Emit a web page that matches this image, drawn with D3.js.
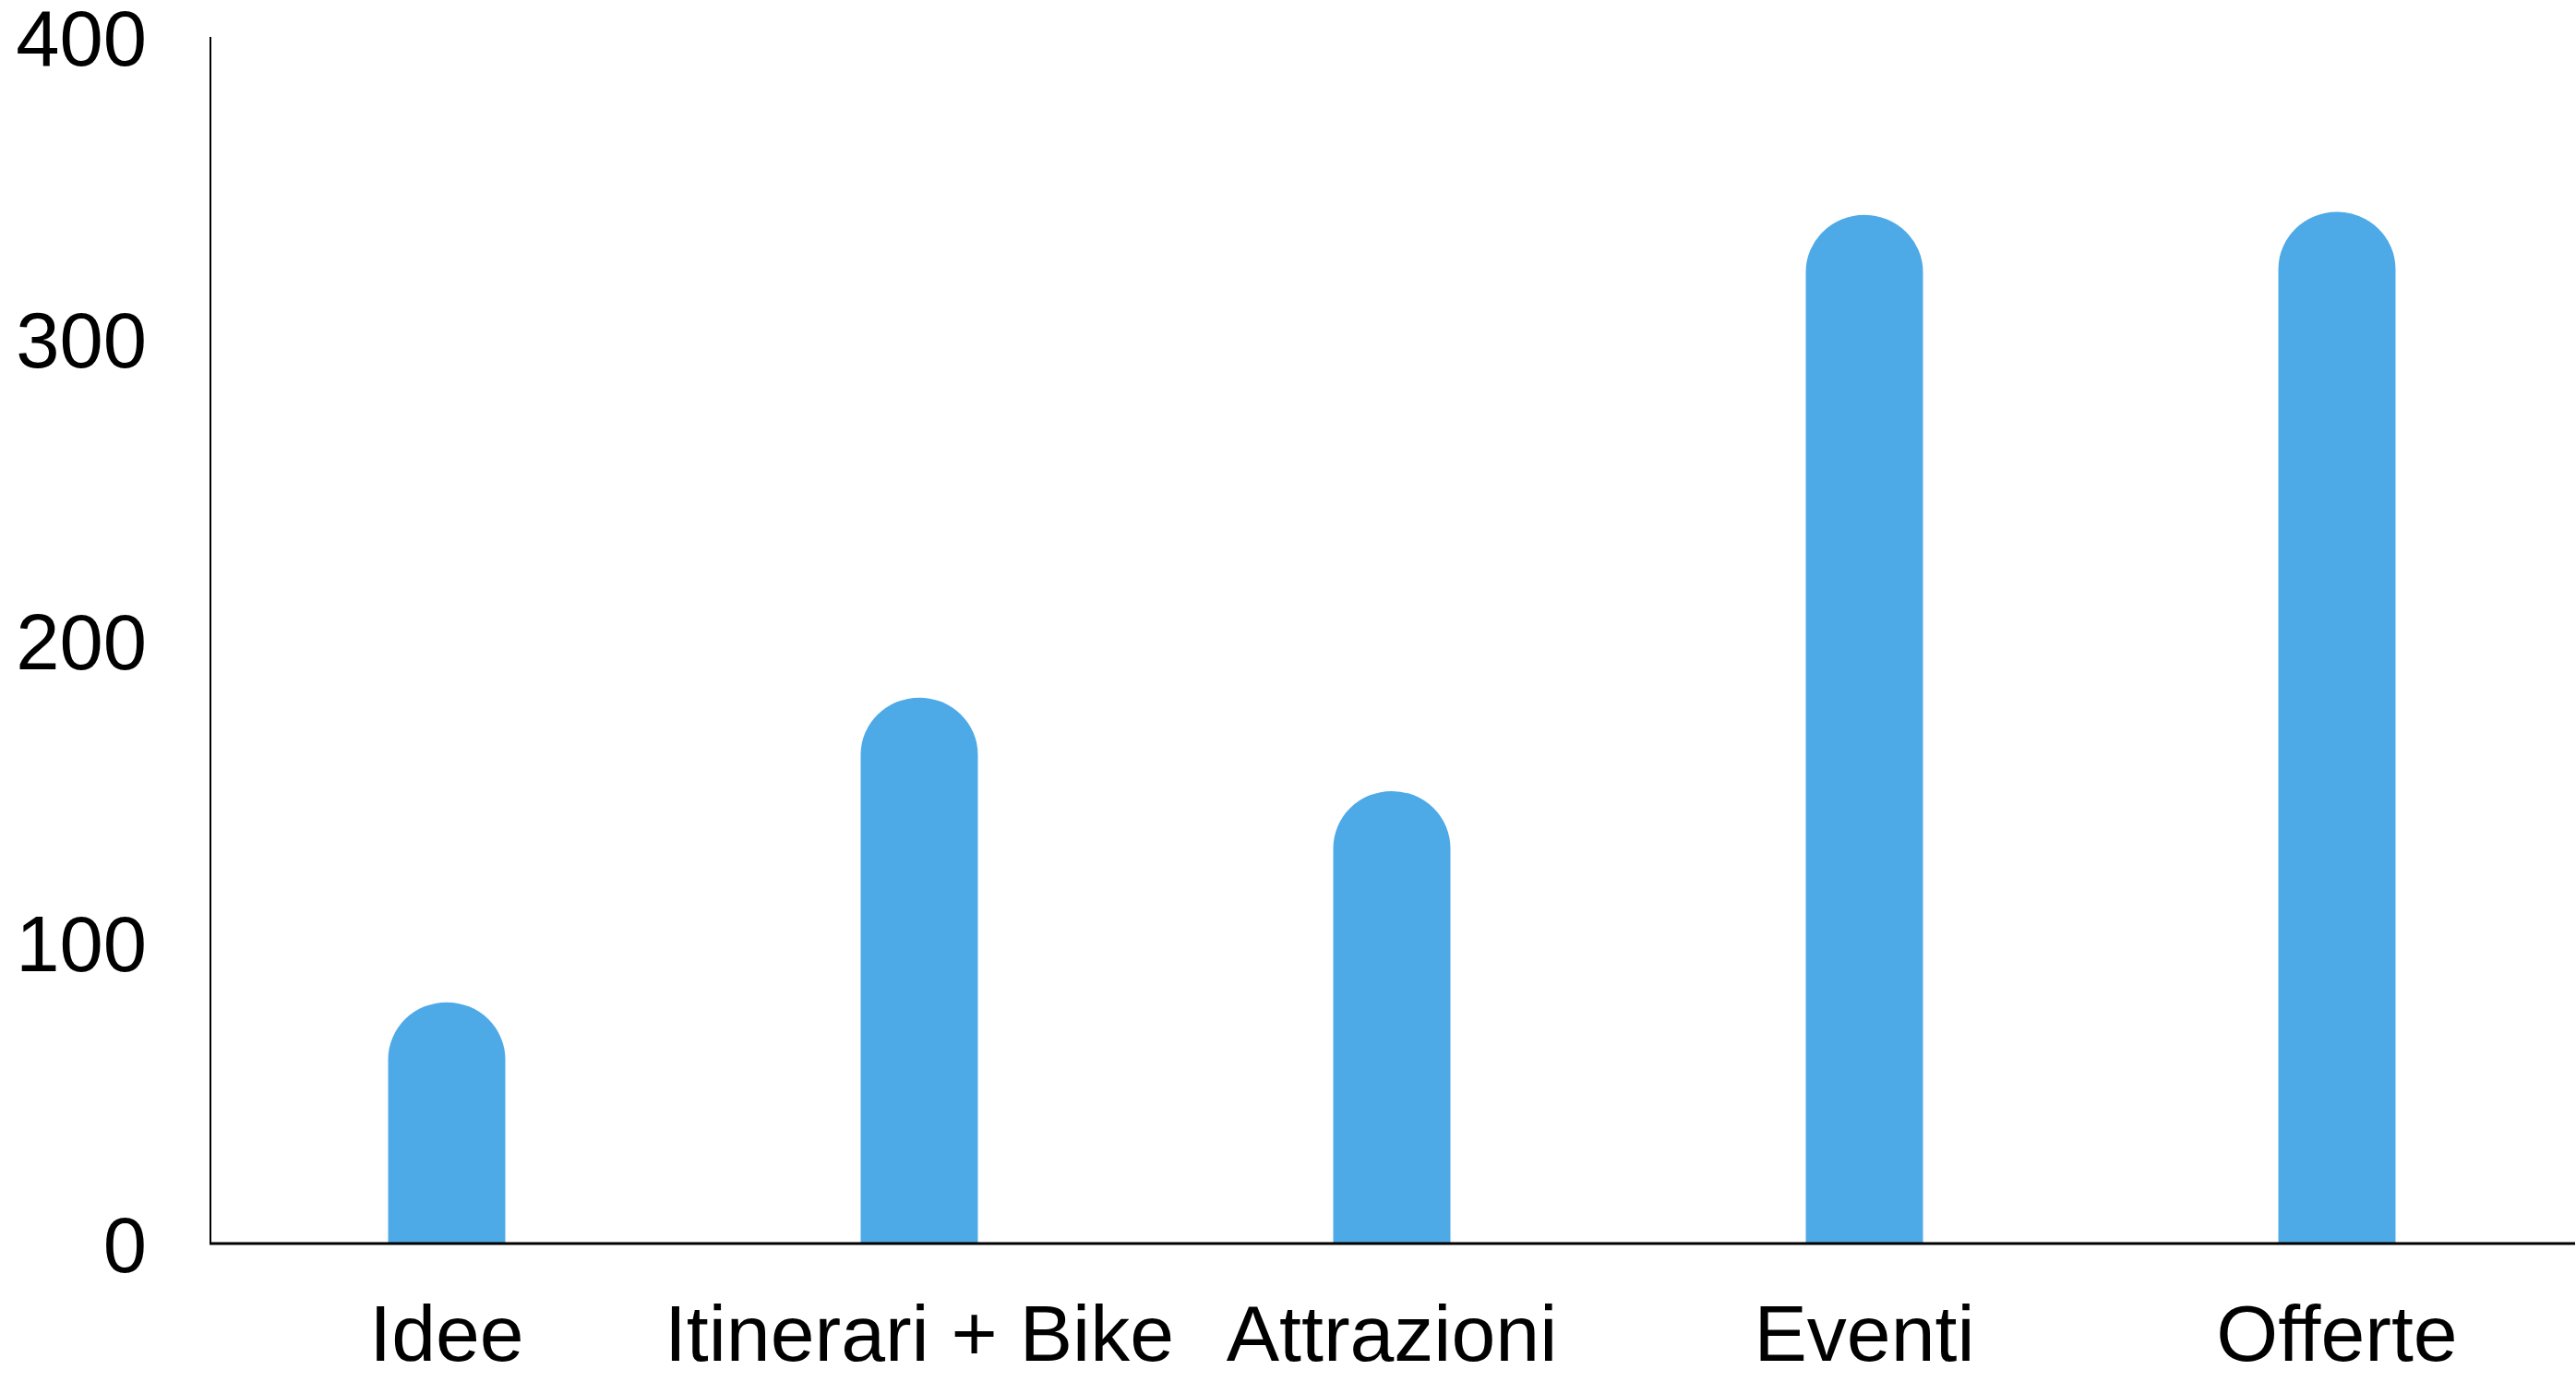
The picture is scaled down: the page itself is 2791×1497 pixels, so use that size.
<!DOCTYPE html>
<html lang="it">
<head>
    <meta charset="UTF-8">
    <title>Contenuti per categoria</title>
    <script src="https://d3js.org/d3.v7.min.js"></script>
</head>
<style>
    body {
        margin: 0;
        padding: 0;
        background: #fff;
    }
    svg {
        display: block;
    }
    text {
        font-family: "Liberation Sans", Arial, Helvetica, sans-serif;
        fill: #000;
    }
</style>
<body>
<div class="chart"></div>
<script>
  /** DATA */
  var categories = ['Idee', 'Itinerari + Bike', 'Attrazioni', 'Eventi', 'Offerte'];
  var values = [80, 181, 150, 341, 342];
  var yTicks = [0, 100, 200, 300, 400];

  /** LAYOUT */
  var width = 2791;
  var height = 1497;
  var axisLeftX = 228;
  var axisRightX = 2790;
  var baselineY = 1347;
  var topY = 40;
  var barWidthFraction = 0.248;
  var capHeight = 62;

  var svg = d3.select('.chart')
    .append('svg')
    .attr('width', width)
    .attr('height', height);

  var x = d3.scaleBand()
    .domain(categories)
    .range([axisLeftX, axisLeftX + 512 * categories.length])
    .padding(0);

  var y = d3.scaleLinear()
    .domain([0, 400])
    .range([baselineY, topY]);

  /** bars with rounded tops */
  var barWidth = x.bandwidth() * barWidthFraction;
  svg.append('g')
    .selectAll('path')
    .data(values)
    .enter().append('path')
    .attr('fill', '#4DAAE7')
    .attr('d', function (d, i) {
      var cx = x(categories[i]) + x.bandwidth() / 2;
      var x0 = cx - barWidth / 2;
      var x1 = cx + barWidth / 2;
      var yt = y(d);
      var r = barWidth / 2;
      return 'M' + x0 + ',' + baselineY +
        'L' + x0 + ',' + (yt + capHeight) +
        'A' + r + ',' + capHeight + ' 0 0 1 ' + x1 + ',' + (yt + capHeight) +
        'L' + x1 + ',' + baselineY + 'Z';
    });

  /** axes lines */
  svg.append('line')
    .attr('x1', axisLeftX).attr('x2', axisLeftX)
    .attr('y1', y(400)).attr('y2', baselineY)
    .attr('stroke', '#000')
    .attr('stroke-width', 2);

  svg.append('line')
    .attr('x1', axisLeftX - 1).attr('x2', axisRightX)
    .attr('y1', baselineY).attr('y2', baselineY)
    .attr('stroke', '#000')
    .attr('stroke-width', 3);

  /** y tick labels */
  svg.append('g')
    .selectAll('text')
    .data(yTicks)
    .enter().append('text')
    .attr('x', 159)
    .attr('y', function (d) { return y(d); })
    .attr('dy', '0.37em')
    .style('text-anchor', 'end')
    .style('font-size', '85px')
    .text(function (d) { return d; });

  /** x category labels */
  svg.append('g')
    .selectAll('text')
    .data(categories)
    .enter().append('text')
    .attr('x', function (d) { return x(d) + x.bandwidth() / 2; })
    .attr('y', 1474)
    .style('text-anchor', 'middle')
    .style('font-size', '86px')
    .text(function (d) { return d; });
</script>
</body>
</html>
